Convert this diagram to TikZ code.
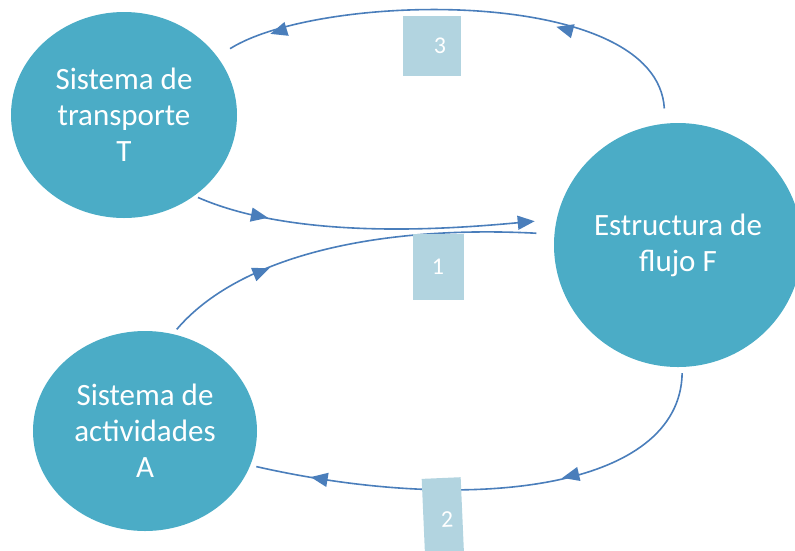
\documentclass[tikz,border=0pt]{standalone}
\usepackage{fontspec}
\setmainfont{Carlito}
\usetikzlibrary{arrows.meta,shapes.geometric,decorations.markings}
\definecolor{sysfill}{HTML}{4BACC6}
\definecolor{flowline}{HTML}{4A7EBB}
\definecolor{tagfill}{HTML}{B2D4E0}

\begin{document}
\begin{tikzpicture}[x=1pt, y=-1pt, >={Triangle[length=17pt,width=14pt]},
  sys/.style={ellipse, fill=sysfill, text=white, align=center, inner sep=0pt,
    font=\fontsize{31}{36}\selectfont},
  tag/.style={fill=tagfill, text=white, inner sep=0pt, font=\fontsize{24}{28}\selectfont},
  flow/.style={draw=flowline, line width=1.6pt},
  onearrow/.style={postaction={decorate}, decoration={markings,
    mark=at position #1 with {\arrow[flowline]{Triangle[length=17pt,width=14pt]}}}},
  twoarrows/.style 2 args={postaction={decorate}, decoration={markings,
    mark=at position #1 with {\arrow[flowline]{Triangle[length=17pt,width=14pt]}},
    mark=at position #2 with {\arrow[flowline]{Triangle[length=17pt,width=14pt]}}}}]
  \useasboundingbox (0,0) rectangle (795,550);
  \node[sys, minimum width=226pt, minimum height=206pt] (T) at (124,115) {Sistema de\\transporte\\T};
  \node[sys, minimum width=248pt, minimum height=244pt] (F) at (678,245) {Estructura de\\flujo F};
  \node[sys, minimum width=224pt, minimum height=200pt] (A) at (145,431) {Sistema de\\actividades\\A};
  % edges
  \draw[flow, twoarrows={0.31}{0.885}, shorten <=15pt, shorten >=15pt]
    (F.96) .. controls (657,-15) and (320,-8) .. (T.32);
  \draw[flow, ->, onearrow=0.21, shorten <=4pt, shorten >=22pt]
    (T.-49) .. controls (300,242) and (460,228) .. (F.168);
  \draw[flow, onearrow=0.29, shorten <=6pt, shorten >=18pt]
    (A.74) .. controls (240,255) and (380,225) .. (F.175);
  \draw[flow, twoarrows={0.36}{0.875}, shorten <=6pt, shorten >=6pt]
    (F.-88) .. controls (680,490) and (470,515) .. (A.-18);
  % numbers
  \node[tag, minimum width=58pt, minimum height=60pt] (n3) at (432,46) {\hspace{16pt}3};
  \node[tag, minimum width=51pt, minimum height=66pt] (n1) at (438,267) {1\hspace{14pt}};
  \node[tag, minimum width=39pt, minimum height=84pt, rotate=2.5] (n2) at (443,520) {\hspace{8pt}2};
\end{tikzpicture}
\end{document}
